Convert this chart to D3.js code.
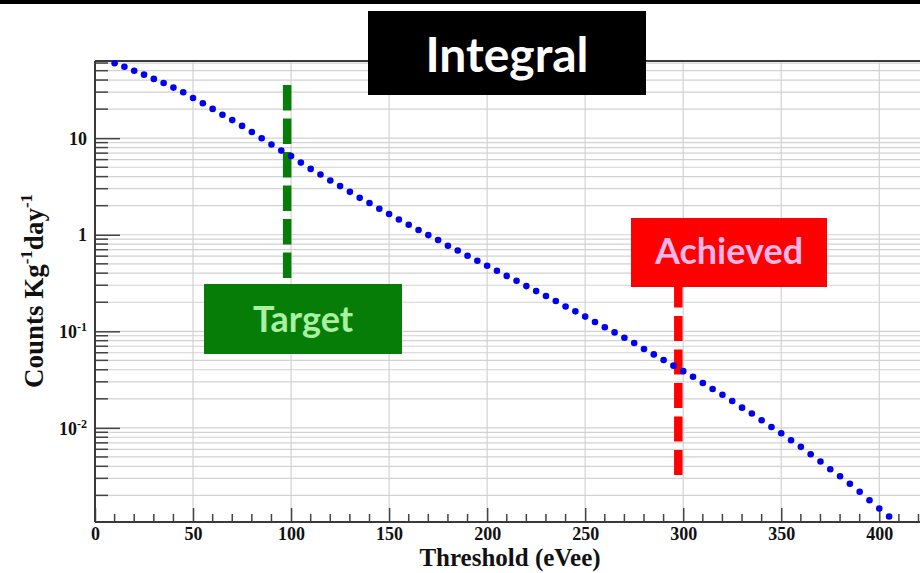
<!DOCTYPE html>
<html>
<head>
<meta charset="utf-8">
<script src="https://cdn.jsdelivr.net/npm/d3@7"></script>
<style>
  html, body { margin: 0; padding: 0; background: #fff; }
  svg { display: block; }
</style>
</head>
<body>
<svg id="chart" width="920" height="573"></svg>
<script>
// Integral count rate above threshold (counts per kg per day) vs threshold in eVee
const thresholdEVee = [10, 15, 20, 25, 30, 35, 40, 45, 50, 55, 60, 65, 70, 75, 80, 85, 90, 95, 100,
  105, 110, 115, 120, 125, 130, 135, 140, 145, 150, 155, 160, 165, 170, 175, 180, 185, 190, 195, 200,
  205, 210, 215, 220, 225, 230, 235, 240, 245, 250, 255, 260, 265, 270, 275, 280, 285, 290, 295, 300,
  305, 310, 315, 320, 325, 330, 335, 340, 345, 350, 355, 360, 365, 370, 375, 380, 385, 390, 395, 400, 405];
const countsPerKgDay = [59.7, 55.0, 50.0, 45.5, 41.1, 37.3, 33.4, 29.9, 26.1, 23.0, 20.1, 17.5, 15.4, 13.4,
  11.6, 10.0, 8.59, 7.44, 6.53, 5.59, 4.81, 4.20, 3.64, 3.19, 2.78, 2.41, 2.13, 1.86, 1.64, 1.44, 1.27, 1.12,
  0.992, 0.881, 0.769, 0.688, 0.606, 0.538, 0.478, 0.424, 0.375, 0.334, 0.294, 0.261, 0.232, 0.206, 0.181,
  0.161, 0.142, 0.125, 0.110, 0.0975, 0.0859, 0.0757, 0.0657, 0.0577, 0.0505, 0.0441, 0.0387, 0.0338,
  0.0292, 0.0253, 0.0220, 0.0190, 0.0162, 0.0141, 0.0120, 0.0102, 0.00879, 0.00744, 0.00636, 0.00533,
  0.00448, 0.00373, 0.00316, 0.00264, 0.00218, 0.00178, 0.00146, 0.00121];

// Axis ticks and labels
const xTickValues = [0, 50, 100, 150, 200, 250, 300, 350, 400];
const yTickValues = [0.01, 0.1, 1, 10];
const yTickBase = ["10", "10", "1", "10"];
const yTickExp = ["-2", "-1", "", ""];

// Threshold markers
const markerLabels = ["Target", "Achieved"];
const markerThresholds = [98, 297.5];

const chartTitle = "Integral";
const xTitle = "Threshold (eVee)";

// ---- layout ----
const W = 920, H = 573;
const plot = { left: 95, right: 918.5, top: 61, bottom: 522 };
const serif = "'Liberation Serif', 'Times New Roman', serif";
const sans = "Lato, 'Open Sans', sans-serif";

const svg = d3.select("#chart");

const x = d3.scaleLinear().domain([0, 420]).range([plot.left, plot.right]);
const y = d3.scaleLog().domain([0.00106, 63]).range([plot.bottom, plot.top]);

// minor ticks: 2..9 within each decade, every 10 eVee on x
const yMinor = [];
for (let e = -3; e <= 1; e++) {
  for (let k = 2; k <= 9; k++) {
    const v = k * Math.pow(10, e);
    if (v >= y.domain()[0] && v <= y.domain()[1]) yMinor.push(v);
  }
}
const xMinor = d3.range(10, 421, 10).filter(v => v % 50 !== 0);

// top black band
svg.append("rect").attr("x", 0).attr("y", 0).attr("width", W).attr("height", 4).attr("fill", "#000");

// grid
const grid = svg.append("g").attr("stroke", "#d2d2d2").attr("stroke-width", 1.2);
grid.selectAll("line.h").data(yMinor.concat(yTickValues)).join("line")
  .attr("x1", plot.left).attr("x2", W)
  .attr("y1", d => y(d)).attr("y2", d => y(d));
grid.selectAll("line.v").data(xTickValues.filter(v => v > 0)).join("line")
  .attr("x1", d => x(d)).attr("x2", d => x(d))
  .attr("y1", plot.top).attr("y2", plot.bottom);

// x axis (major ticks upward, labels below)
const xAxis = d3.axisBottom(x).tickValues(xTickValues).tickSize(-14).tickPadding(5);
const gx = svg.append("g").attr("transform", `translate(0,${plot.bottom})`).call(xAxis);
gx.select(".domain").remove();
gx.selectAll(".tick line").attr("stroke", "#444").attr("stroke-width", 1.5);
gx.selectAll(".tick text")
  .attr("font-family", serif).attr("font-weight", "bold").attr("font-size", 18).attr("fill", "#111");
gx.selectAll("line.minor").data(xMinor).join("line")
  .attr("class", "minor")
  .attr("x1", d => x(d)).attr("x2", d => x(d))
  .attr("y1", 0).attr("y2", -8)
  .attr("stroke", "#444").attr("stroke-width", 1.5);

// y axis (ticks inward, labels with exponents)
const yAxis = d3.axisLeft(y).tickValues(yTickValues).tickSize(-25).tickPadding(8).tickFormat(() => "");
const gy = svg.append("g").attr("transform", `translate(${plot.left},0)`).call(yAxis);
gy.select(".domain").remove();
gy.selectAll(".tick line").attr("stroke", "#444").attr("stroke-width", 1.5);
gy.selectAll(".tick text").each(function (d, i) {
  const t = d3.select(this)
    .attr("font-family", serif).attr("font-weight", "bold").attr("font-size", 18)
    .attr("fill", "#111").attr("dy", "0.34em");
  t.append("tspan").text(yTickBase[i]);
  if (yTickExp[i]) {
    t.append("tspan").attr("font-size", 12).attr("dy", -7).text(yTickExp[i]);
  }
});
gy.selectAll("line.minor").data(yMinor).join("line")
  .attr("class", "minor")
  .attr("x1", 0).attr("x2", 13)
  .attr("y1", d => y(d)).attr("y2", d => y(d))
  .attr("stroke", "#444").attr("stroke-width", 1.5);

// frame
const frame = svg.append("g").attr("stroke", "#3a3a3a").attr("stroke-width", 2).attr("fill", "none");
frame.append("line").attr("x1", plot.left).attr("x2", W).attr("y1", plot.bottom).attr("y2", plot.bottom);
frame.append("line").attr("x1", plot.left).attr("x2", W).attr("y1", plot.top).attr("y2", plot.top);
frame.append("line").attr("x1", plot.left).attr("x2", plot.left).attr("y1", plot.top).attr("y2", plot.bottom);

// threshold marker dashed lines
const markerColors = ["#067d06", "#ff0000"];
const markerSpans = [[85, 278], [475, 283]];
const markerDash = ["25.5 8", "25 8.5"];
svg.selectAll("line.marker").data(markerThresholds).join("line")
  .attr("class", "marker")
  .attr("x1", d => x(d)).attr("x2", d => x(d))
  .attr("y1", (d, i) => markerSpans[i][0]).attr("y2", (d, i) => markerSpans[i][1])
  .attr("stroke", (d, i) => markerColors[i])
  .attr("stroke-width", 8.5)
  .attr("stroke-dasharray", (d, i) => markerDash[i]);

// integral rate points
svg.append("g").selectAll("circle").data(thresholdEVee).join("circle")
  .attr("cx", d => x(d))
  .attr("cy", (d, i) => y(countsPerKgDay[i]))
  .attr("r", 3.3)
  .attr("fill", "#0000ee");

// marker label boxes
const boxes = [
  { x: 204, y: 284, w: 198, h: 70, fill: "#067d06", text: "#aaf0a2", base: 332 },
  { x: 631, y: 218, w: 196, h: 69, fill: "#ff0000", text: "#f9b6e6", base: 264 }
];
markerLabels.forEach((label, i) => {
  const b = boxes[i];
  svg.append("rect").attr("x", b.x).attr("y", b.y).attr("width", b.w).attr("height", b.h).attr("fill", b.fill);
  svg.append("text").attr("x", b.x + b.w / 2).attr("y", b.base)
    .attr("text-anchor", "middle").attr("font-family", sans).attr("font-weight", 700)
    .attr("font-size", 36).attr("fill", b.text).text(label);
});

// title box
svg.append("rect").attr("x", 368).attr("y", 11).attr("width", 278).attr("height", 84).attr("fill", "#000");
svg.append("text").attr("x", 507).attr("y", 72).attr("text-anchor", "middle")
  .attr("font-family", sans).attr("font-weight", 700).attr("font-size", 48).attr("fill", "#fff")
  .text(chartTitle);

// axis titles
svg.append("text").attr("x", 510).attr("y", 566).attr("text-anchor", "middle")
  .attr("font-family", serif).attr("font-weight", "bold").attr("font-size", 25).attr("fill", "#111")
  .text(xTitle);

const yt = svg.append("text").attr("transform", "translate(43,291) rotate(-90)")
  .attr("text-anchor", "middle")
  .attr("font-family", serif).attr("font-weight", "bold").attr("font-size", 27).attr("fill", "#111");
yt.append("tspan").text("Counts Kg");
yt.append("tspan").attr("font-size", 17).attr("dy", -11).text("-1");
yt.append("tspan").attr("dy", 11).text("day");
yt.append("tspan").attr("font-size", 17).attr("dy", -11).text("-1");
</script>
</body>
</html>
